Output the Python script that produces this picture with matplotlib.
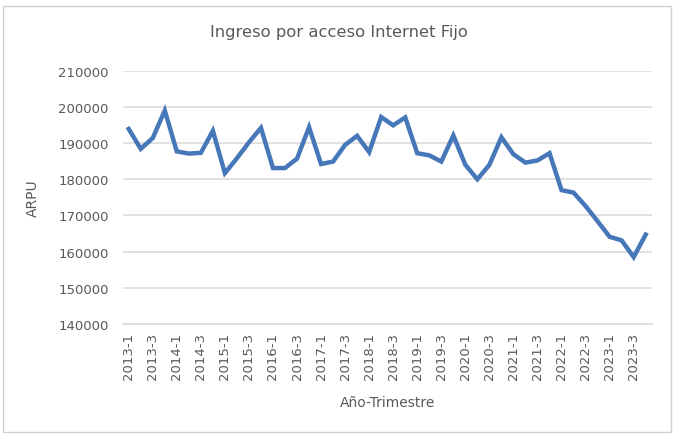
import matplotlib
matplotlib.use("Agg")
import matplotlib.pyplot as plt
from matplotlib.patches import Rectangle

# trimestres 2013-1 .. 2023-4
trimestres = [f"{a}-{t}" for a in range(2013, 2024) for t in range(1, 5)]
arpu = [193900, 188400, 191400, 199000, 187700, 187100, 187300, 193400,
        181700, 185800, 190200, 194200, 183100, 183100, 185700, 194400,
        184200, 184900, 189500, 192000, 187500, 197200, 194900, 197100,
        187200, 186600, 184900, 192100, 184000, 180000, 184000, 191600,
        186900, 184600, 185200, 187200, 177000, 176300, 172600, 168400,
        164100, 163100, 158500, 164700]
yticks = [140000, 150000, 160000, 170000, 180000, 190000, 200000, 210000]

gris = "#595959"
fig = plt.figure(figsize=(6.74, 4.35), dpi=100)
W, H = 674, 435
ax = fig.add_axes([122.7 / W, 1 - 325 / H, 529 / W, (325 - 71.7) / H])

x = list(range(len(trimestres)))
ax.plot(x, arpu, color="#4677b8", linewidth=3.2, solid_joinstyle="miter", zorder=3)

ax.set_xlim(-0.5, len(trimestres) - 0.5)
ax.set_ylim(140000, 210000)
ax.set_yticks(yticks)
ax.set_yticklabels([str(v) for v in yticks], color=gris, fontsize=9.5)
ax.set_xticks(x[::2])
ax.set_xticklabels(trimestres[::2], rotation=90, color=gris, fontsize=9.5)
ax.tick_params(length=0)
ax.tick_params(axis="y", pad=10)
ax.tick_params(axis="x", pad=6)

ax.grid(axis="y", color="#dcdcdc", linewidth=1.2)
ax.set_axisbelow(True)
for s in ["top", "right", "left"]:
    ax.spines[s].set_visible(False)
ax.spines["bottom"].set_color("#dcdcdc")
ax.spines["bottom"].set_linewidth(1.2)

ax.set_xlabel("Año-Trimestre", color=gris, fontsize=10)
ax.xaxis.set_label_coords(0.5, -(396 - 325) / (325 - 71.7))
ax.set_ylabel("ARPU", color=gris, fontsize=10)
ax.yaxis.set_label_coords(-(122.7 - 40) / 529, 0.5)

fig.text(339 / W, 1 - 33 / H, "Ingreso por acceso Internet Fijo", color=gris,
         fontsize=11.8, ha="center", va="center")

fig.patches.append(Rectangle((3 / W, 2 / H), 668 / W, 1 - 9 / H, transform=fig.transFigure,
                             fill=False, edgecolor="#d0d0d0", linewidth=1))

fig.savefig("out.png", dpi=100)
